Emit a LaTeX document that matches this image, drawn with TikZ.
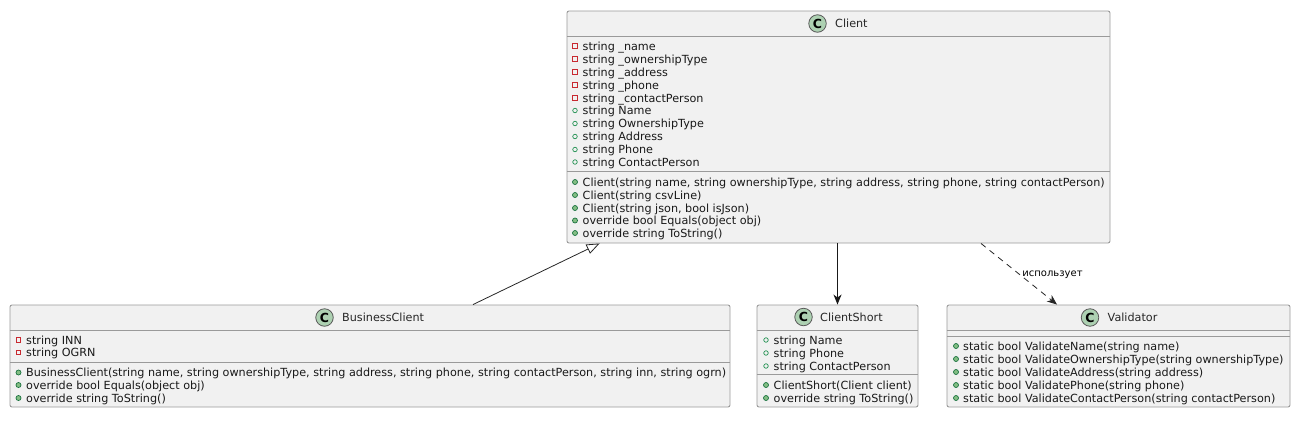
\documentclass[tikz,border=0pt]{standalone}
\usepackage{fontspec}
\setmainfont{DejaVu Sans}
\usetikzlibrary{arrows.meta}
\definecolor{boxfill}{HTML}{F1F1F1}
\definecolor{boxline}{HTML}{9A9A9A}
\definecolor{spotfill}{HTML}{ADD1B2}
\definecolor{privred}{HTML}{C82930}
\definecolor{pubgreen}{HTML}{1F8F4F}
\definecolor{pubfill}{HTML}{84BE84}
\tikzset{
  classbox/.style={draw=boxline, fill=boxfill, line width=0.9pt, rounded corners=2pt, inner sep=0pt},
  spot/.style={draw=black!65, fill=spotfill, circle, line width=0.8pt, minimum size=17.5pt, inner sep=0pt, font=\fontsize{12.5}{12.5}\selectfont\bfseries},
  title/.style={anchor=base west, inner sep=0pt, font=\fontsize{11.2}{12}\selectfont, text=black!85},
  member/.style={anchor=base west, inner sep=0pt, font=\fontsize{11.2}{12}\selectfont, text=black!90},
  priv/.style={draw=privred, rectangle, line width=0.7pt, minimum size=4.5pt, inner sep=0pt},
  field/.style={draw=pubgreen, circle, line width=0.7pt, minimum size=4.5pt, inner sep=0pt},
  method/.style={draw=pubgreen!80!black, fill=pubfill, circle, line width=0.7pt, minimum size=5pt, inner sep=0pt},
  sepline/.style={draw=boxline, line width=0.9pt}
}
\begin{document}
\begin{tikzpicture}[x=1pt,y=-1pt]
\useasboundingbox (0,0) rectangle (1298,421);

% Classes
\node[classbox, minimum width=543pt, minimum height=232pt] (Client) at (838.5,127) {};
\node[classbox, minimum width=720pt, minimum height=102pt] (BusinessClient) at (370,356) {};
\node[classbox, minimum width=161pt, minimum height=102pt] (ClientShort) at (837.5,356) {};
\node[classbox, minimum width=343pt, minimum height=102pt] (Validator) at (1118.5,356) {};

% Separators
\draw[sepline] (Client.west |- 0,36.5) -- (Client.east |- 0,36.5);
\draw[sepline] (Client.west |- 0,171.5) -- (Client.east |- 0,171.5);
\draw[sepline] (BusinessClient.west |- 0,330.5) -- (BusinessClient.east |- 0,330.5);
\draw[sepline] (BusinessClient.west |- 0,362.5) -- (BusinessClient.east |- 0,362.5);
\draw[sepline] (ClientShort.west |- 0,330.5) -- (ClientShort.east |- 0,330.5);
\draw[sepline] (ClientShort.west |- 0,374.5) -- (ClientShort.east |- 0,374.5);
\draw[sepline] (Validator.west |- 0,330.5) -- (Validator.east |- 0,330.5);
\draw[sepline] (Validator.west |- 0,336.5) -- (Validator.east |- 0,336.5);

% Titles
\node[spot] (ClientSpot) at (817.5,23.5) {C};
\node[title] (ClientTitle) at (835,27.5) {Client};
\node[spot] (BusinessSpot) at (324.5,317.5) {C};
\node[title] (BusinessTitle) at (342,321.5) {BusinessClient};
\node[spot] (ShortSpot) at (803.5,317) {C};
\node[title] (ShortTitle) at (820,321.5) {ClientShort};
\node[spot] (ValidatorSpot) at (1090,317.5) {C};
\node[title] (ValidatorTitle) at (1107.5,321.5) {Validator};

% Client members
\foreach \n/\y/\mk/\txt in {
  1/46/priv/{string \_name}, 2/59/priv/{string \_ownershipType}, 3/72/priv/{string \_address},
  4/85/priv/{string \_phone}, 5/98/priv/{string \_contactPerson},
  6/110.5/field/{string Name}, 7/123.5/field/{string OwnershipType}, 8/136.5/field/{string Address},
  9/149.5/field/{string Phone}, 10/162/field/{string ContactPerson},
  11/182/method/{Client(string name, string ownershipType, string address, string phone, string contactPerson)},
  12/195/method/{Client(string csvLine)}, 13/208/method/{Client(string json, bool isJson)},
  14/220.5/method/{override bool Equals(object obj)}, 15/233/method/{override string ToString()}}
{
  \node[\mk] (cm\n) at (575,\y) {};
  \node[member] (ct\n) at (582.5,\y+4) {\txt};
}

% BusinessClient members
\foreach \n/\y/\mk/\txt in {
  1/340/priv/{string INN}, 2/352.5/priv/{string OGRN},
  3/372.5/method/{BusinessClient(string name, string ownershipType, string address, string phone, string contactPerson, string inn, string ogrn)},
  4/385/method/{override bool Equals(object obj)}, 5/398/method/{override string ToString()}}
{
  \node[\mk] (bm\n) at (18.5,\y) {};
  \node[member] (bt\n) at (26,\y+4) {\txt};
}

% ClientShort members
\foreach \n/\y/\mk/\txt in {
  1/340/field/{string Name}, 2/353/field/{string Phone}, 3/366/field/{string ContactPerson},
  4/385/method/{ClientShort(Client client)}, 5/398/method/{override string ToString()}}
{
  \node[\mk] (sm\n) at (766,\y) {};
  \node[member] (st\n) at (773.5,\y+4) {\txt};
}

% Validator members
\foreach \n/\y/\txt in {
  1/346/{static bool ValidateName(string name)}, 2/359/{static bool ValidateOwnershipType(string ownershipType)},
  3/372/{static bool ValidateAddress(string address)}, 4/385/{static bool ValidatePhone(string phone)},
  5/398/{static bool ValidateContactPerson(string contactPerson)}}
{
  \node[method] (vm\n) at (956,\y) {};
  \node[member] (vt\n) at (963,\y+4) {\txt};
}

% Arrows
\draw[{Triangle[open, length=13pt, width=10pt]}-, line width=0.8pt, black!85] ([xshift=33pt]Client.south west) -- ([xshift=103pt]BusinessClient.north);
\draw[-{Stealth[length=10pt, width=8pt, inset=3pt]}, line width=0.9pt, black!90] (ClientShort.north |- Client.south) -- (ClientShort.north);
\draw[-{Stealth[length=10pt, width=8pt, inset=3pt]}, dashed, dash pattern=on 6pt off 5pt, line width=0.8pt, black!85] ([xshift=142.5pt]Client.south) -- ([xshift=-61.5pt]Validator.north) node[pos=0.52, right, inner sep=0pt, xshift=1.5pt, text=black, font=\fontsize{10}{11}\selectfont] (UsesLabel) {использует};
\end{tikzpicture}
\end{document}
